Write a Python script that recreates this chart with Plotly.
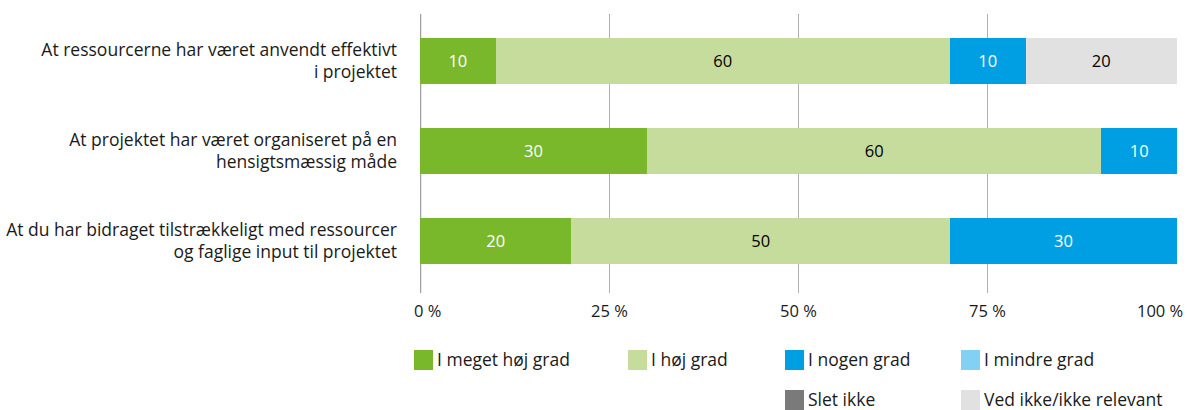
import plotly.graph_objects as go

categories = [
    "At ressourcerne har været anvendt effektivt<br>i projektet",
    "At projektet har været organiseret på en<br>hensigtsmæssig måde",
    "At du har bidraget tilstrækkeligt med ressourcer<br>og faglige input til projektet",
]
series_names = ["I meget høj grad", "I høj grad", "I nogen grad", "I mindre grad",
                "Slet ikke", "Ved ikke/ikke relevant"]
meget_hoej = [10, 30, 20]
hoej = [60, 60, 50]
nogen = [10, 10, 30]
mindre = [0, 0, 0]
slet_ikke = [0, 0, 0]
ved_ikke = [20, 0, 0]
tick_vals = [0, 25, 50, 75, 100]
tick_text = ["0 %", "25 %", "50 %", "75 %", "100 %"]

series_values = [meget_hoej, hoej, nogen, mindre, slet_ikke, ved_ikke]
colors = ["#78b82a", "#c6dc9c", "#009fe3", "#83d0f5", "#7a7a7a", "#e1e1e1"]
text_colors = ["white", "black", "white", "black", "white", "black"]

FONT = "Open Sans"
W, H = 1187, 410
ML, MR, MT, MB = 420, 10, 14, 117
PW, PH = W - ML - MR, H - MT - MB

def px_x(px):
    return (px - ML) / PW

def px_y(py):
    return (H - MB - py) / PH

fig = go.Figure()
for i, (name, vals) in enumerate(zip(series_names, series_values)):
    fig.add_trace(go.Bar(
        y=categories, x=vals, name=name, orientation="h",
        marker=dict(color=colors[i], line=dict(width=0)),
        width=0.51,
        text=[str(v) if v else "" for v in vals],
        textposition="inside", insidetextanchor="middle",
        constraintext="none",
        textfont=dict(color=text_colors[i], size=16.5, family=FONT),
        showlegend=False, hoverinfo="skip",
    ))

# x tick labels as annotations so that the end labels stay inside the page
for v, t in zip(tick_vals, tick_text):
    if v == tick_vals[0]:
        anchor, shift = "left", -8
    elif v == tick_vals[-1]:
        anchor, shift = "right", 8
    else:
        anchor, shift = "center", 0
    fig.add_annotation(xref="x", yref="paper", x=v, y=0, yanchor="top",
                       xanchor=anchor, yshift=-4, xshift=shift, text=t,
                       showarrow=False,
                       font=dict(size=16.5, family=FONT, color="#1a1a1a"))

# custom legend (grid layout as in the reference)
leg_left = [414, 628, 785, 961, 785, 961]
leg_mid = [360, 360, 360, 360, 400, 400]
for i, name in enumerate(series_names):
    x0 = leg_left[i]
    yc = leg_mid[i]
    fig.add_shape(type="rect", xref="paper", yref="paper",
                  x0=px_x(x0), x1=px_x(x0 + 19),
                  y0=px_y(yc + 10), y1=px_y(yc - 10),
                  fillcolor=colors[i], line=dict(width=0))
    fig.add_annotation(xref="paper", yref="paper", x=px_x(x0 + 21), y=px_y(yc - 1),
                       text=name, showarrow=False, xanchor="left", yanchor="middle",
                       font=dict(size=17.5, family=FONT, color="#1a1a1a"))

fig.update_layout(
    width=W, height=H,
    margin=dict(l=ML, r=MR, t=MT, b=MB, autoexpand=False),
    barmode="stack", showlegend=False,
    plot_bgcolor="white", paper_bgcolor="white",
    font=dict(family=FONT, size=16, color="#1a1a1a"),
    xaxis=dict(range=[0, 100], tickvals=tick_vals, showticklabels=False,
               showgrid=True, gridcolor="#b0b0b0", gridwidth=1,
               zeroline=False, showline=False, ticks=""),
    yaxis=dict(range=[2.578, -0.522], showgrid=False, zeroline=False,
               showline=False, ticks="", ticklabelstandoff=22,
               tickfont=dict(size=17.5, family=FONT)),
)
fig.add_shape(type="line", xref="x", yref="paper", x0=0, x1=0, y0=0, y1=1,
              line=dict(color="#a0a0a0", width=2.5), layer="below")

fig.write_html("out.html")
